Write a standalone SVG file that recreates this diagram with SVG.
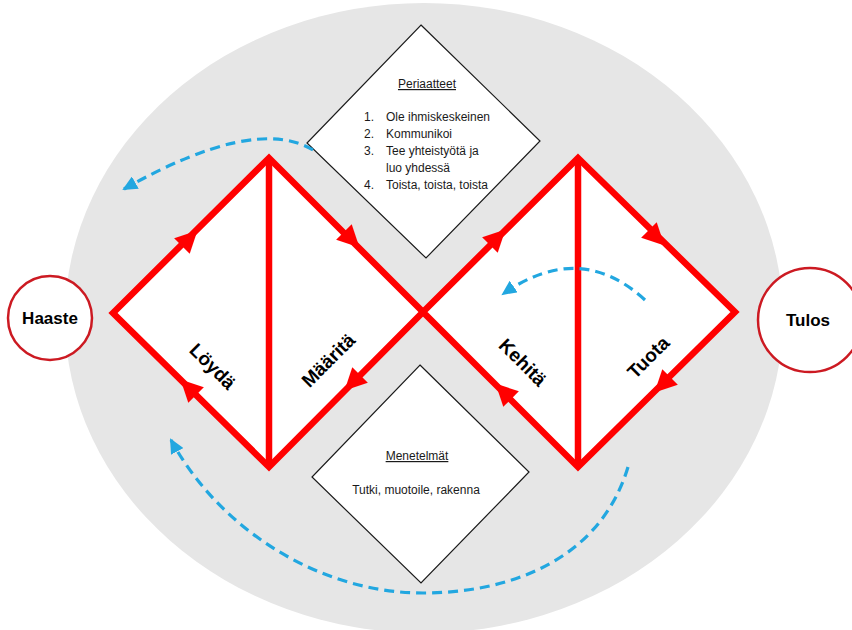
<svg xmlns="http://www.w3.org/2000/svg" width="852" height="630" viewBox="0 0 852 630">
<style>
.bg{fill:#e6e6e6;stroke:none}
.red{fill:#ffffff;stroke:#ff0000;stroke-width:6.5;stroke-linejoin:miter}
.redline{fill:none;stroke:#ff0000;stroke-width:6.5}
.wd{fill:#ffffff;stroke:#1a1a1a;stroke-width:1.2}
.circ{fill:#ffffff;stroke:#cc1a22;stroke-width:2.5}
.t{font-family:"Liberation Sans",Arial,sans-serif;font-size:12px;fill:#1a1a1a}
.b{font-family:"Liberation Sans",Arial,sans-serif;font-size:17px;font-weight:bold;fill:#000}
.lab{font-family:"Liberation Sans",Arial,sans-serif;font-size:19px;font-weight:bold;fill:#000;text-anchor:middle}
.blue{fill:none;stroke:#22a7e0;stroke-width:3.2;stroke-dasharray:10 6}
.ah{fill:#ff0000}
</style>
<defs>
<polygon id="ah" points="12,0 -10,-11 -10,11"/>
<marker id="bm" markerUnits="userSpaceOnUse" markerWidth="16" markerHeight="14" refX="13" refY="7" orient="auto">
<path d="M0,0 L15,7 L0,14 z" fill="#22a7e0"/>
</marker>
</defs>
<ellipse class="bg" cx="424" cy="318" rx="359" ry="315"/>
<g id="haaste">
<circle class="circ" cx="50" cy="318" r="42"/>
<text class="b" x="50" y="324" text-anchor="middle">Haaste</text>
</g>
<g id="tulos">
<circle class="circ" cx="810" cy="320" r="52"/>
<text class="b" x="808" y="326" text-anchor="middle">Tulos</text>
</g>
<g id="diamond-left">
<polygon class="red" points="113,313 269,158 423,312 269,467"/>
<line class="redline" x1="269" y1="158" x2="269" y2="467"/>
</g>
<g id="diamond-right">
<polygon class="red" points="423,312 578,158 735,312 578,467"/>
<line class="redline" x1="578" y1="158" x2="578" y2="467"/>
</g>
<g id="periaatteet">
<polygon class="wd" points="421,25 540,141 426,258 307,143"/>
<text class="t" x="427" y="88" text-anchor="middle" text-decoration="underline">Periaatteet</text>
<text class="t" x="364" y="121">1.</text><text class="t" x="386" y="121">Ole ihmiskeskeinen</text>
<text class="t" x="364" y="138">2.</text><text class="t" x="386" y="138">Kommunikoi</text>
<text class="t" x="364" y="155">3.</text><text class="t" x="386" y="155">Tee yhteistyötä ja</text>
<text class="t" x="386" y="172">luo yhdessä</text>
<text class="t" x="364" y="189">4.</text><text class="t" x="386" y="189">Toista, toista, toista</text>
</g>
<g id="menetelmat">
<polygon class="wd" points="420,365 529,472 421,583 312,477"/>
<text class="t" x="417" y="460" text-anchor="middle" text-decoration="underline">Menetelmät</text>
<text class="t" x="416" y="494" text-anchor="middle">Tutki, muotoile, rakenna</text>
</g>
<g id="connectors">
<use href="#ah" class="ah" transform="translate(189,239) rotate(-45)"/>
<use href="#ah" class="ah" transform="translate(351,239) rotate(45)"/>
<use href="#ah" class="ah" transform="translate(353,382) rotate(135)"/>
<use href="#ah" class="ah" transform="translate(189,388) rotate(-135)"/>
<use href="#ah" class="ah" transform="translate(497,238) rotate(-45)"/>
<use href="#ah" class="ah" transform="translate(656,237) rotate(45)"/>
<use href="#ah" class="ah" transform="translate(663,384) rotate(135)"/>
<use href="#ah" class="ah" transform="translate(504,392) rotate(-135)"/>
<path class="blue" d="M313,150 Q255,115 124,189" marker-end="url(#bm)"/>
<path class="blue" d="M645,300 Q580,240 503,294" marker-end="url(#bm)"/>
<path class="blue" d="M628,467 C600,560 510,593 423,593 C320,593 220,530 171,440" marker-end="url(#bm)"/>
</g>
<g id="labels">
<text class="lab" transform="translate(213,366) rotate(45)" y="7">Löydä</text>
<text class="lab" transform="translate(328,360) rotate(-45)" y="7">Määritä</text>
<text class="lab" transform="translate(523,362) rotate(45)" y="7">Kehitä</text>
<text class="lab" transform="translate(648,357) rotate(-45)" y="7">Tuota</text>
</g>
</svg>
